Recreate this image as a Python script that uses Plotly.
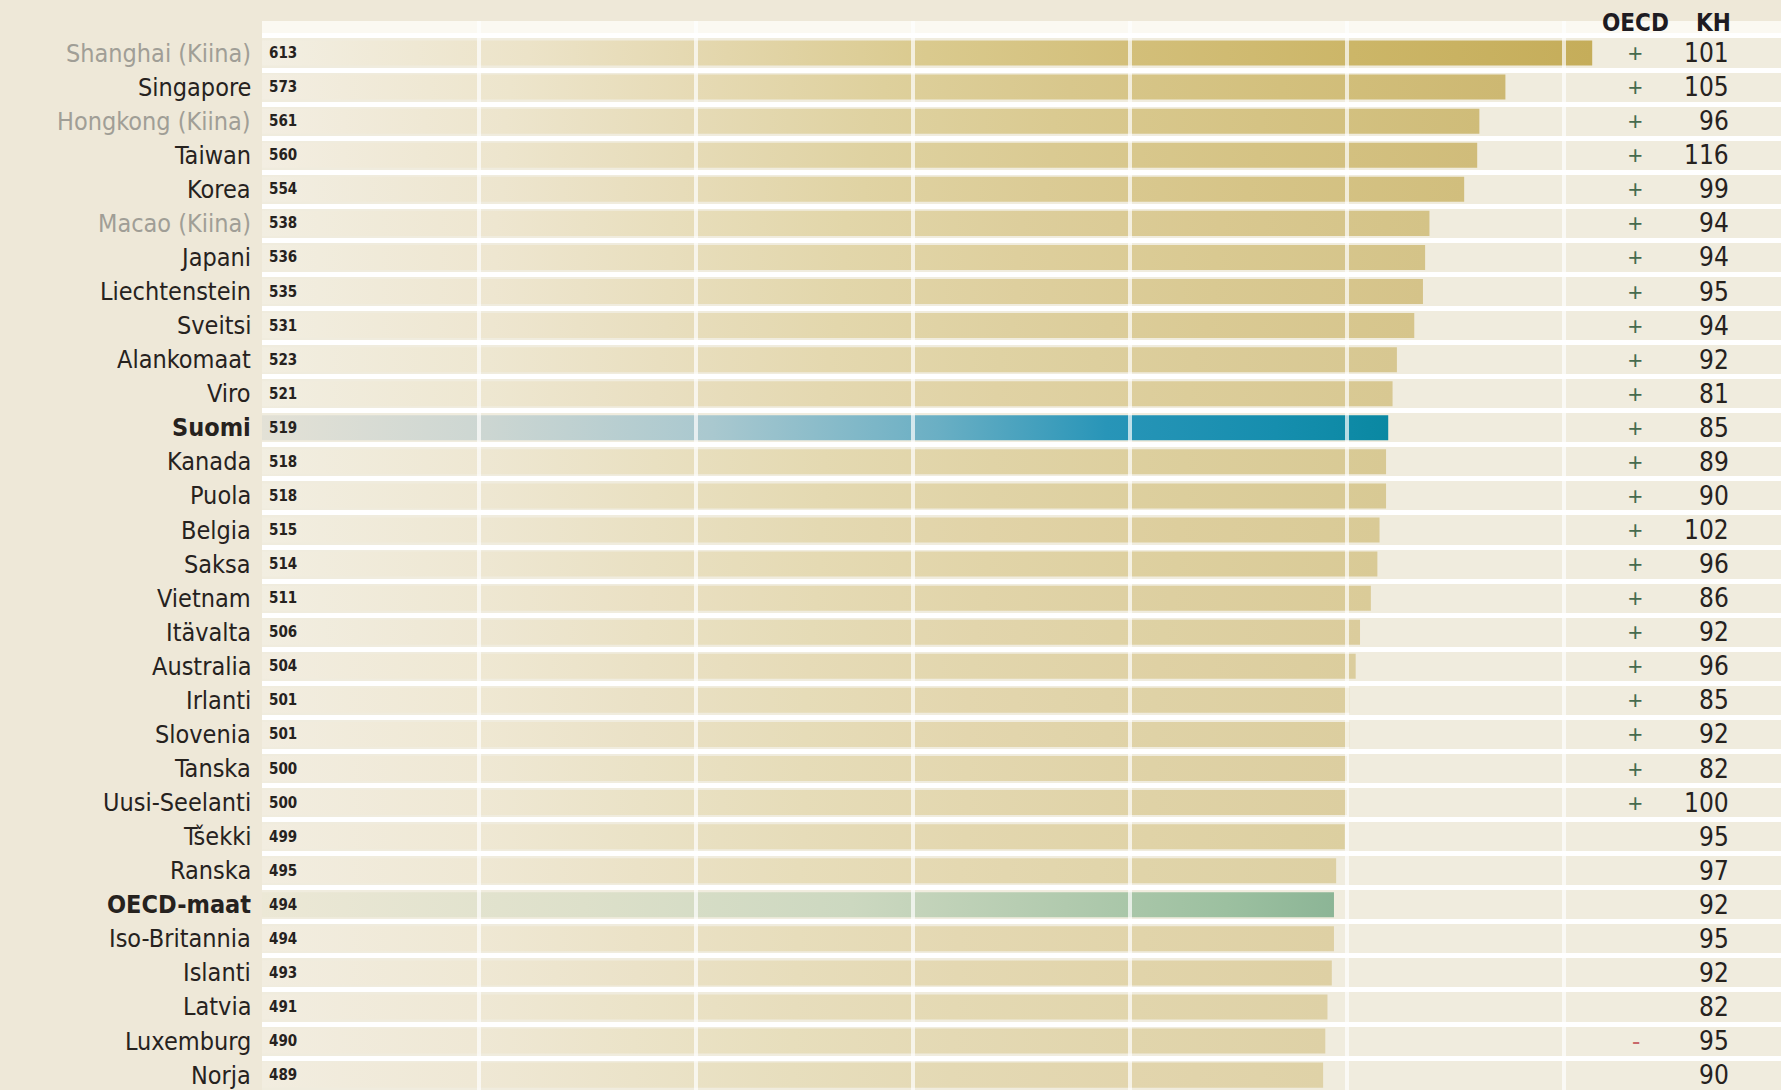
import plotly.graph_objects as go

# PISA scores, ranked
countries = [
    "Shanghai (Kiina)", "Singapore", "Hongkong (Kiina)", "Taiwan", "Korea",
    "Macao (Kiina)", "Japani", "Liechtenstein", "Sveitsi", "Alankomaat",
    "Viro", "Suomi", "Kanada", "Puola", "Belgia", "Saksa", "Vietnam",
    "Itävalta", "Australia", "Irlanti", "Slovenia", "Tanska", "Uusi-Seelanti",
    "Tšekki", "Ranska", "OECD-maat", "Iso-Britannia", "Islanti", "Latvia",
    "Luxemburg", "Norja",
]
scores = [613, 573, 561, 560, 554, 538, 536, 535, 531, 523, 521, 519, 518,
          518, 515, 514, 511, 506, 504, 501, 501, 500, 500, 499, 495, 494,
          494, 493, 491, 490, 489]
oecd_diff = ["+"] * 23 + ["", "", "", "", "", "", "-", ""]
kh = [101, 105, 96, 116, 99, 94, 94, 95, 94, 92, 81, 85, 89, 90, 102, 96,
      86, 92, 96, 85, 92, 82, 100, 95, 97, 92, 95, 92, 82, 95, 90]
grid_vals = [100, 200, 300, 400, 500, 600]
highlight = {"Suomi": "teal", "OECD-maat": "green"}
bold_rows = ["Suomi", "OECD-maat"]

FONT = ("Liberation Sans Narrow, DejaVu Sans Condensed, Roboto Condensed, "
        "Arial Narrow, Roboto, Liberation Sans, sans-serif")
BASE = "#F1ECDE"
PAGE = "#EEE8D8"
BAND = "#F0ECDE"
DARK = "#26221E"
MUTED = "#A09E96"

gold_stops = [(0.0, "#F3EFE3"), (0.2, "#ECE3C8"), (0.35, "#E3D6AB"),
              (0.5, "#DACA8E"), (0.65, "#D3BF7A"), (0.82, "#CCB668"),
              (1.0, "#C5AD5A")]
teal_stops = [(0.0, "#E3E1D6"), (0.2, "#CCD6D2"), (0.4, "#A9C8CF"),
              (0.6, "#6AAFC4"), (0.75, "#2895B8"), (0.9, "#168EAE"),
              (1.0, "#0A88A2")]
green_stops = [(0.0, "#ECE8D6"), (0.3, "#DDE0CA"), (0.55, "#CCD8C0"),
               (0.75, "#B1CAAE"), (0.9, "#9CC0A0"), (1.0, "#8CB596")]


def hex_rgb(h):
    h = h.lstrip("#")
    return tuple(int(h[i:i + 2], 16) for i in (0, 2, 4))


def blend(c, s):
    b = hex_rgb(BASE)
    r = hex_rgb(c)
    mix = [round(b[k] + s * (r[k] - b[k])) for k in range(3)]
    return "rgb({},{},{})".format(*mix)


def gold_scale(v):
    s = max(0.0, min(1.0, (v - 420) / (613 - 420))) ** 0.85
    return [[t, blend(c, s)] for t, c in gold_stops]


HALF = 0.367  # half bar thickness in row units
fig = go.Figure()

for i, (name, v) in enumerate(zip(countries, scores)):
    kind = highlight.get(name, "gold")
    if kind == "teal":
        scale = [[t, c] for t, c in teal_stops]
    elif kind == "green":
        scale = [[t, c] for t, c in green_stops]
    else:
        scale = gold_scale(v)
    fig.add_trace(go.Scatter(
        x=[0, v, v, 0, 0],
        y=[i - HALF, i - HALF, i + HALF, i + HALF, i - HALF],
        mode="lines", fill="toself", line=dict(width=0),
        fillgradient=dict(type="horizontal", colorscale=scale),
        hoverinfo="skip", showlegend=False,
    ))

n = len(countries)
y_top = -0.94
y_bot = y_top + 1069 / 34.07

annotations = []
for i, (name, v, d, k) in enumerate(zip(countries, scores, oecd_diff, kh)):
    color = MUTED if "(Kiina)" in name else DARK
    text = "<b>" + name + "</b>" if name in bold_rows else name
    annotations.append(dict(
        x=0, y=i, xref="x", yref="y", text=text, showarrow=False,
        xanchor="right", xshift=-9,
        font=dict(family=FONT, size=25, color=color)))
    annotations.append(dict(
        x=2.5, y=i, xref="x", yref="y", text="<b>%d</b>" % v, showarrow=False,
        xanchor="left", font=dict(family=FONT, size=15, color=DARK)))
    if d:
        annotations.append(dict(
            x=633, y=i, xref="x", yref="y", text=d, showarrow=False,
            xanchor="center",
            font=dict(family="Liberation Sans", size=25,
                      color="#466B4E" if d == "+" else "#C8686A")))
    annotations.append(dict(
        x=677, y=i, xref="x", yref="y", text=str(k), showarrow=False,
        xanchor="right", font=dict(family=FONT, size=26, color=DARK)))

for label, xc in (("OECD", 633), ("KH", 669)):
    annotations.append(dict(
        x=xc, y=-0.88, xref="x", yref="y", text="<b>%s</b>" % label,
        showarrow=False, xanchor="center",
        font=dict(family=FONT, size=24, color="#1E1B22")))

shapes = [dict(type="rect", xref="paper", yref="y", x0=0, x1=1,
               y0=y_top, y1=-0.5, fillcolor="#FBF9F2", line=dict(width=0),
               layer="below")]
for g in grid_vals:
    shapes.append(dict(type="line", xref="x", yref="y", x0=g, x1=g,
                       y0=y_top, y1=y_bot, layer="above", opacity=0.7,
                       line=dict(color="white", width=4)))

fig.update_layout(
    width=1781, height=1090,
    margin=dict(l=262, r=0, t=21, b=0),
    paper_bgcolor=PAGE, plot_bgcolor=BAND,
    xaxis=dict(range=[0, 700], showgrid=False, zeroline=False,
               showticklabels=False, ticks="", fixedrange=True),
    yaxis=dict(range=[y_bot, y_top], tickvals=[i + 0.5 for i in range(-1, n)],
               showgrid=True, gridcolor="white", gridwidth=5,
               zeroline=False, showticklabels=False, ticks=""),
    annotations=annotations, shapes=shapes,
)

fig.write_html("out.html")
